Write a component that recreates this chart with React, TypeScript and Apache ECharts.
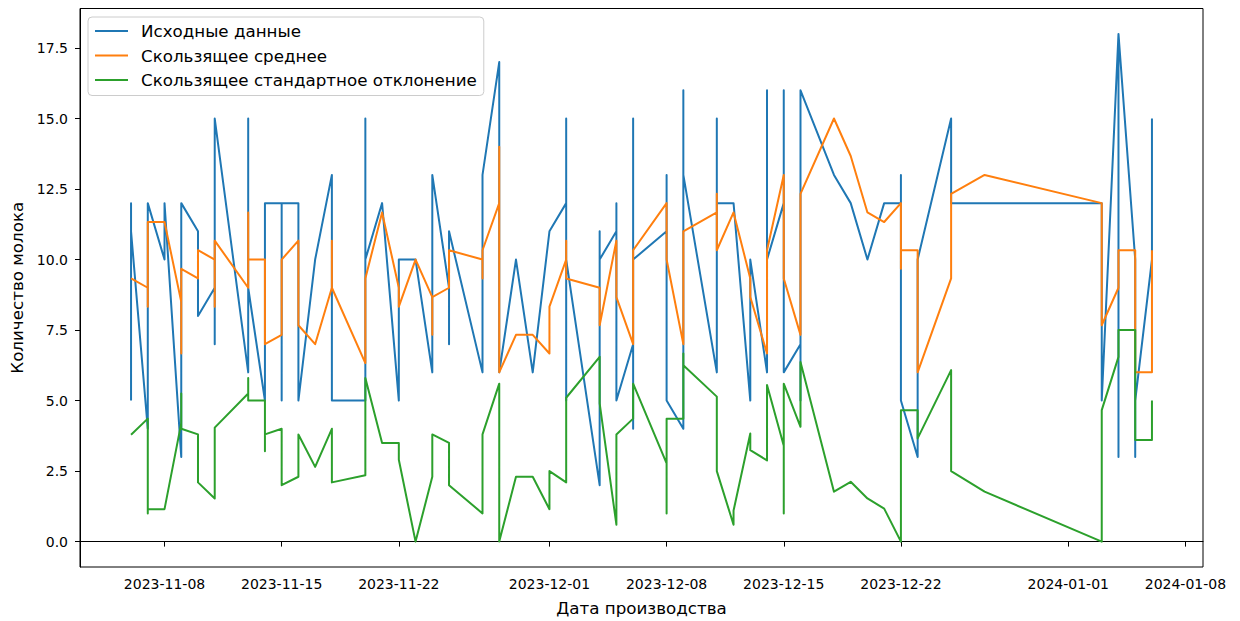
import React, { useEffect, useRef } from 'react';
import * as echarts from 'echarts';

// ---------- data ----------
const rawDates = [
  '2023-11-06', '2023-11-07', '2023-11-08', '2023-11-09', '2023-11-10', '2023-11-11', '2023-11-13',
  '2023-11-14', '2023-11-15', '2023-11-16', '2023-11-17', '2023-11-18', '2023-11-19', '2023-11-20',
  '2023-11-21', '2023-11-22', '2023-11-23', '2023-11-24', '2023-11-25', '2023-11-27', '2023-11-28',
  '2023-11-29', '2023-11-30', '2023-12-01', '2023-12-02', '2023-12-04', '2023-12-05', '2023-12-06',
  '2023-12-08', '2023-12-09', '2023-12-11', '2023-12-12', '2023-12-13', '2023-12-14', '2023-12-15',
  '2023-12-16', '2023-12-18', '2023-12-19', '2023-12-20', '2023-12-21', '2023-12-22', '2023-12-23',
  '2023-12-25', '2024-01-03', '2024-01-04', '2024-01-05', '2024-01-06',
];
const rawValues = [
  [5, 12, 11], [4, 10, 12], [10, 12], [3, 12], [11, 8], [9, 7, 15], [6, 15, 9],
  [5, 12], [12, 5, 12], [12, 5], [10], [13, 5], [5], [5, 15, 10],
  [12], [5, 10], [10], [6, 13], [9, 7, 11], [6, 13], [17, 6],
  [10], [6], [11], [12, 15, 5, 10], [2, 11, 10], [11, 12, 5], [7, 4, 15, 10],
  [11, 13, 5], [4, 16, 13], [6, 15, 12], [12], [5, 10], [6, 16, 10], [12, 16, 6],
  [7, 5, 16], [13], [12], [10], [12], [12, 13, 5], [3, 10],
  [15, 12], [12, 5], [18, 3, 18], [10, 3, 5], [10, 15],
];

const rollDates = [
  '2023-11-06', '2023-11-07', '2023-11-08', '2023-11-09', '2023-11-10', '2023-11-11', '2023-11-13',
  '2023-11-14', '2023-11-15', '2023-11-16', '2023-11-17', '2023-11-18', '2023-11-20', '2023-11-21',
  '2023-11-22', '2023-11-23', '2023-11-24', '2023-11-25', '2023-11-27', '2023-11-28', '2023-11-29',
  '2023-11-30', '2023-12-01', '2023-12-02', '2023-12-04', '2023-12-05', '2023-12-06', '2023-12-08',
  '2023-12-09', '2023-12-11', '2023-12-12', '2023-12-13', '2023-12-14', '2023-12-15', '2023-12-16',
  '2023-12-18', '2023-12-19', '2023-12-20', '2023-12-21', '2023-12-22', '2023-12-23', '2023-12-25',
  '2023-12-27', '2024-01-03', '2024-01-04', '2024-01-05', '2024-01-06',
];
const meanValues = [
  [9.33], [9.0, 8.33, 11.33], [11.33], [8.5, 6.67, 9.67], [9.33, 10.33], [10.0, 8.33, 10.67], [9.0, 11.67, 10.0],
  [10.0, 7.0], [7.33, 10.0], [10.67, 7.67], [7.0], [9.0, 10.67, 9.0], [6.33, 9.33], [11.67],
  [9.0, 8.33], [10.0], [8.67, 7.33, 8.67], [9.0, 10.33], [10.0, 9.33, 10.33], [12.0, 14.0, 6.0], [7.33],
  [7.33], [6.67, 8.33], [10.0, 10.67, 9.33], [9.0, 7.67], [10.67, 8.67], [7.0, 10.33], [12.0, 10.0],
  [7.0, 11.0], [11.67, 12.33, 10.33], [11.67], [9.33, 8.67], [6.67, 10.33], [13.0, 9.33], [7.33, 12.33],
  [15.0], [13.67], [11.67], [11.33], [12.0, 9.67, 10.33], [10.33, 6.0], [9.33, 12.33],
  [13.0], [12.0, 7.67], [9.0, 10.33], [10.33, 6.0], [6.0, 10.33],
];
const stdValues = [
  [3.79], [4.36, 1.0, 1.15], [1.15], [4.2, 5.25, 4.0], [3.8, 2.1], [1.53, 4.04], [5.25, 5.8, 5.0],
  [5.0, 3.2, 3.8], [4.0, 2.0], [2.3, 3.8], [2.65], [4.0, 2.1], [2.35, 5.8], [3.5],
  [3.5, 2.9], [0.0], [2.3, 3.8], [3.5, 2.0], [1.0, 3.8], [5.6, 0.0], [2.3],
  [2.3], [1.15, 2.5], [2.1, 5.1], [6.55, 4.9], [0.6, 3.8], [4.36, 5.6], [2.77, 1.0, 4.36],
  [4.36, 6.67, 6.25], [5.14, 2.5], [0.6, 1.1], [3.83, 3.24], [2.88, 5.55], [3.4, 1.0, 5.6], [4.07, 6.37],
  [1.77], [2.12], [1.53], [1.17], [0.0, 4.66], [4.66, 3.66], [6.08, 2.5],
  [1.77], [0.0, 4.66], [6.55, 7.5], [7.5, 3.6], [3.6, 5.0],
];

const xTickDates = [
  '2023-11-08', '2023-11-15', '2023-11-22', '2023-12-01', '2023-12-08',
  '2023-12-15', '2023-12-22', '2024-01-01', '2024-01-08',
];
const yTicks = [0, 2.5, 5, 7.5, 10, 12.5, 15, 17.5];

const seriesNames = ['Исходные данные', 'Скользящее среднее', 'Скользящее стандартное отклонение'];
const seriesColors = ['#1f77b4', '#ff7f0e', '#2ca02c'];

// ---------- helpers ----------
function toTime(s: string): number {
  const [y, m, d] = s.split('-').map(Number);
  return new Date(y, m - 1, d).getTime();
}
function pad(n: number) {
  return n < 10 ? '0' + n : String(n);
}
function fmtDate(v: number) {
  const d = new Date(v);
  return d.getFullYear() + '-' + pad(d.getMonth() + 1) + '-' + pad(d.getDate());
}
function flatten(dates: string[], groups: number[][]): [number, number][] {
  const out: [number, number][] = [];
  dates.forEach((ds, i) => {
    const t = toTime(ds);
    groups[i].forEach((v) => out.push([t, v]));
  });
  return out;
}

const FONT = 'DejaVu Sans';
const TICK_FS = 14;
const BIG_FS = 16.7;

export default function App() {
  const ref = useRef<HTMLDivElement>(null);
  useEffect(() => {
    document.body.style.margin = '0';
    if (!ref.current) return;
    const chart = echarts.init(ref.current, undefined, { renderer: 'svg' });
    const t0 = toTime(rawDates[0]);
    const t1 = toTime(rawDates[rawDates.length - 1]);
    const margin = (t1 - t0) * 0.05;
    const datasets = [
      flatten(rawDates, rawValues),
      flatten(rollDates, meanValues),
      flatten(rollDates, stdValues),
    ];
    const xTicks = xTickDates.map(toTime);
    chart.setOption({
      animation: false,
      grid: {
        left: 80,
        right: 37,
        top: 8.5,
        bottom: 54,
        show: true,
        borderColor: '#000',
        borderWidth: 1,
        backgroundColor: 'transparent',
      },
      legend: {
        left: 88,
        top: 17,
        orient: 'vertical',
        itemWidth: 33,
        itemHeight: 2,
        itemGap: 5.5,
        icon: 'rect',
        padding: [4.5, 7, 6, 7],
        backgroundColor: 'rgba(255,255,255,0.8)',
        borderColor: '#cccccc',
        borderWidth: 1,
        borderRadius: 4,
        textStyle: {
          fontFamily: FONT,
          fontSize: BIG_FS,
          color: '#000',
          lineHeight: 19,
          padding: [0, 0, 0, 8],
        },
        data: seriesNames,
      },
      xAxis: {
        type: 'value',
        min: t0 - margin,
        max: t1 + margin,
        name: 'Дата производства',
        nameLocation: 'middle',
        nameGap: 32,
        nameTextStyle: { fontFamily: FONT, fontSize: BIG_FS, color: '#000' },
        axisLine: { show: true, lineStyle: { color: '#000', width: 1 } },
        axisTick: {
          show: true,
          length: 5,
          lineStyle: { color: '#000', width: 1 },
          customValues: xTicks,
        },
        axisLabel: {
          fontFamily: FONT,
          fontSize: TICK_FS,
          color: '#000',
          margin: 10,
          customValues: xTicks,
          formatter: (v: number) => fmtDate(v),
          showMinLabel: true,
          showMaxLabel: true,
        },
        splitLine: { show: false },
      },
      yAxis: {
        type: 'value',
        min: -0.9,
        max: 18.9,
        name: 'Количество молока',
        nameLocation: 'middle',
        nameGap: 55,
        nameRotate: 90,
        nameTextStyle: { fontFamily: FONT, fontSize: BIG_FS, color: '#000' },
        axisLine: { show: true, lineStyle: { color: '#000', width: 1 } },
        axisTick: {
          show: true,
          length: 5,
          lineStyle: { color: '#000', width: 1 },
          customValues: yTicks,
        },
        axisLabel: {
          fontFamily: FONT,
          fontSize: TICK_FS,
          color: '#000',
          margin: 12,
          customValues: yTicks,
          formatter: (v: number) => v.toFixed(1),
        },
        splitLine: { show: false },
      },
      series: seriesNames.map((name, i) => ({
        name,
        type: 'line',
        data: datasets[i],
        showSymbol: false,
        symbol: 'none',
        color: seriesColors[i],
        lineStyle: { color: seriesColors[i], width: 2, join: 'round' },
        z: 2 + i,
      })),
    });
    return () => chart.dispose();
  }, []);
  return <div ref={ref} style={{ width: 1240, height: 621 }} />;
}
